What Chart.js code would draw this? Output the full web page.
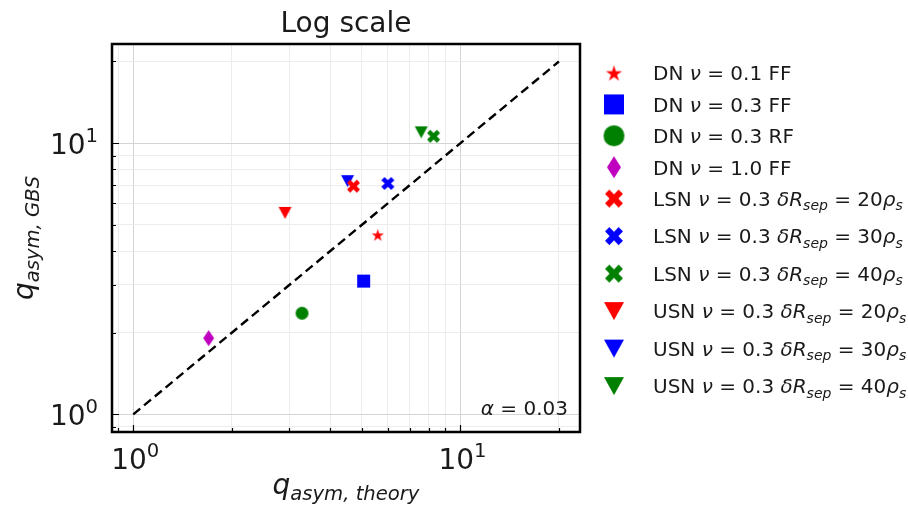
<!DOCTYPE html>
<html>
<head>
<meta charset="utf-8">
<script src="https://cdn.jsdelivr.net/npm/chart.js@4.4.0/dist/chart.umd.min.js"></script>
<style>
  html, body { margin: 0; padding: 0; background: #fff; }
  canvas { display: block; }
</style>
</head>
<body>
<canvas id="chart" width="908" height="505"></canvas>
<script>
// ---- data ----
// labels use a tiny markup: *x* italic, _{x} italic subscript, ^{x} superscript
const seriesLabels = [
    'DN *ν* = 0.1 FF',
    'DN *ν* = 0.3 FF',
    'DN *ν* = 0.3 RF',
    'DN *ν* = 1.0 FF',
    'LSN *ν* = 0.3 *δR*_{sep} = 20*ρ*_{s}',
    'LSN *ν* = 0.3 *δR*_{sep} = 30*ρ*_{s}',
    'LSN *ν* = 0.3 *δR*_{sep} = 40*ρ*_{s}',
    'USN *ν* = 0.3 *δR*_{sep} = 20*ρ*_{s}',
    'USN *ν* = 0.3 *δR*_{sep} = 30*ρ*_{s}',
    'USN *ν* = 0.3 *δR*_{sep} = 40*ρ*_{s}'
];
const seriesShapes = ['star', 'square', 'circle', 'diamond', 'x', 'x', 'x', 'triDown', 'triDown', 'triDown'];
const seriesColors = ['#ff0000', '#0000ff', '#008000', '#bf00bf', '#ff0000', '#0000ff', '#008000', '#ff0000', '#0000ff', '#008000'];
const qTheory = [5.59, 5.06, 3.28, 1.70, 4.71, 6.00, 8.28, 2.91, 4.52, 7.59];
const qGBS    = [4.59, 3.10, 2.36, 1.91, 6.94, 7.10, 10.6, 5.53, 7.24, 10.96];
const refLine = [1, 20];              // y = x guide, from 1 to 20
const tickValues = [0.9, 1, 2, 3, 4, 5, 6, 7, 8, 9, 10, 20];
const majorTicks = [1, 10];
const axisMin = 0.861;
const axisMax = 23.2;
const titleText = 'Log scale';
const xTitle = '*q*_{asym, theory}';
const yTitle = '*q*_{asym, GBS}';
const noteText = '*α* = 0.03';

// ---- styles ----
const FONT = '"DejaVu Sans", sans-serif';
const plotMarker = { star: [13, 13], square: [13, 13], circle: [13, 13], diamond: [11, 16], x: [13, 13], triDown: [13, 12] };
const legendMarker = { star: [17, 17], square: [20, 20], circle: [21, 21], diamond: [14, 22], x: [18, 18], triDown: [20, 18] };

function markerCanvas(shape, color, w, h) {
    const pad = 2;
    const c = document.createElement('canvas');
    c.width = Math.ceil(w) + pad * 2;
    c.height = Math.ceil(h) + pad * 2;
    const g = c.getContext('2d');
    g.translate(c.width / 2, c.height / 2);
    g.fillStyle = color;
    const rx = w / 2, ry = h / 2;
    g.beginPath();
    if (shape === 'circle') {
        g.arc(0, 0, rx, 0, Math.PI * 2);
    } else if (shape === 'square') {
        g.rect(-rx, -ry, w, h);
    } else if (shape === 'diamond') {
        g.moveTo(0, -ry); g.lineTo(rx, 0); g.lineTo(0, ry); g.lineTo(-rx, 0);
    } else if (shape === 'triDown') {
        g.moveTo(-rx, -ry); g.lineTo(rx, -ry); g.lineTo(0, ry);
    } else if (shape === 'star') {
        for (let k = 0; k < 10; k++) {
            const r = k % 2 ? 0.382 : 1;
            const a = -Math.PI / 2 + k * Math.PI / 5;
            g.lineTo(r * rx * Math.cos(a), r * ry * Math.sin(a) + ry * 0.1);
        }
    } else if (shape === 'x') {
        const a = 0.32;
        const L = rx * Math.SQRT2 / (1 + a), t = a * L;
        const pts = [[t, t], [L, t], [L, -t], [t, -t], [t, -L], [-t, -L], [-t, -t], [-L, -t], [-L, t], [-t, t], [-t, L], [t, L]];
        const cs = Math.SQRT1_2;
        pts.forEach(([px, py]) => g.lineTo((px - py) * cs, (px + py) * cs));
    }
    g.closePath();
    g.fill();
    return c;
}

// ---- math-ish text ----
function parseMath(s) {
    const parts = [];
    let buf = '', i = 0;
    const flush = () => { if (buf) { parts.push({ t: buf }); buf = ''; } };
    while (i < s.length) {
        const ch = s[i];
        if (ch === '*') {
            flush();
            const j = s.indexOf('*', i + 1);
            parts.push({ t: s.slice(i + 1, j), it: true });
            i = j + 1;
        } else if ((ch === '_' || ch === '^') && s[i + 1] === '{') {
            flush();
            const j = s.indexOf('}', i);
            parts.push({ t: s.slice(i + 2, j), it: ch === '_', sub: ch === '_', sup: ch === '^' });
            i = j + 1;
        } else {
            buf += ch; i++;
        }
    }
    flush();
    return parts;
}
const plain = s => s.replace(/\*/g, '').replace(/[_^]\{([^}]*)\}/g, '$1');

function partFont(p, size) {
    const sz = (p.sub || p.sup) ? size * 0.7 : size;
    return (p.it ? 'italic ' : '') + sz + 'px ' + FONT;
}
function mathWidth(c, parts, size) {
    return parts.reduce((w, p) => { c.font = partFont(p, size); return w + c.measureText(p.t).width; }, 0);
}
// draws at baseline y; align: left | center | right
function drawMath(c, text, x, y, size, align) {
    const parts = parseMath(text);
    const w = mathWidth(c, parts, size);
    let cx = align === 'center' ? x - w / 2 : align === 'right' ? x - w : x;
    c.textAlign = 'left';
    c.textBaseline = 'alphabetic';
    parts.forEach(p => {
        c.font = partFont(p, size);
        const dy = p.sub ? size * 0.22 : p.sup ? -size * 0.43 : 0;
        c.fillText(p.t, cx, y + dy);
        cx += c.measureText(p.t).width;
    });
}

// ---- decorations: frame, inward ticks, labels, legend ----
const decor = {
    id: 'decor',
    afterDraw(chart) {
        const { ctx: c, chartArea: a, scales } = chart;
        const xs = scales.x, ys = scales.y;
        c.save();
        c.fillStyle = '#1a1a1a';
        c.strokeStyle = '#000';

        // inward ticks
        c.lineWidth = 1.2;
        tickValues.forEach(v => {
            const len = majorTicks.includes(v) ? 7 : 4;
            const px = Math.round(xs.getPixelForValue(v)) + 0.5;
            const py = Math.round(ys.getPixelForValue(v)) + 0.5;
            c.beginPath();
            c.moveTo(px, a.bottom); c.lineTo(px, a.bottom - len);
            c.moveTo(a.left, py); c.lineTo(a.left + len, py);
            c.stroke();
        });

        // frame
        c.lineWidth = 2.5;
        c.strokeRect(a.left, a.top, a.right - a.left, a.bottom - a.top);

        // tick labels
        majorTicks.forEach(v => {
            const lab = '10^{' + Math.round(Math.log10(v)) + '}';
            drawMath(c, lab, xs.getPixelForValue(v) + 2, a.bottom + 37, 28, 'center');
            drawMath(c, lab, a.left - 14, ys.getPixelForValue(v) + 11, 28, 'right');
        });

        // title and axis titles
        c.font = '28px ' + FONT;
        c.textAlign = 'center';
        c.textBaseline = 'alphabetic';
        c.fillText(titleText, (a.left + a.right) / 2, 32);
        drawMath(c, xTitle, (a.left + a.right) / 2, 494, 28, 'center');
        c.save();
        c.translate(33, (a.top + a.bottom) / 2);
        c.rotate(-Math.PI / 2);
        drawMath(c, yTitle, 0, 0, 28, 'center');
        c.restore();

        // annotation
        drawMath(c, noteText, a.right - 12, a.bottom - 17, 20, 'right');

        // legend
        let ly = 73;
        seriesLabels.forEach((lab, i) => {
            if (i > 0) ly += (lab.includes('_{') && seriesLabels[i - 1].includes('_{')) ? 37.5 : 31.4;
            const [w, h] = legendMarker[seriesShapes[i]];
            const img = markerCanvas(seriesShapes[i], seriesColors[i], w, h);
            c.drawImage(img, 614 - img.width / 2, ly - img.height / 2);
            c.fillStyle = '#1a1a1a';
            drawMath(c, lab, 653, ly + 7.3, 20, 'left');
        });
        c.restore();
    }
};

// ---- chart ----
function logAxis() {
    return {
        type: 'logarithmic',
        min: axisMin,
        max: axisMax,
        afterBuildTicks: s => { s.ticks = tickValues.map(v => ({ value: v, major: majorTicks.includes(v) })); },
        afterFit: s => { if (s.isHorizontal()) s.height = 0; else s.width = 0; },
        ticks: { display: false },
        grid: {
            drawTicks: false,
            lineWidth: 1,
            color: g => (g.tick && g.tick.major) ? '#d4d4d4' : '#ececec'
        },
        border: { display: false }
    };
}

const pointSets = seriesLabels.map((lab, i) => {
    const [w, h] = plotMarker[seriesShapes[i]];
    return {
        label: plain(lab),
        data: [{ x: qTheory[i], y: qGBS[i] }],
        pointStyle: markerCanvas(seriesShapes[i], seriesColors[i], w, h),
        pointRadius: 6,
        order: 1
    };
});

const lineSet = {
    type: 'line',
    label: 'y = x',
    data: refLine.map(v => ({ x: v, y: v })),
    borderColor: '#000',
    borderWidth: 2.4,
    borderDash: [9, 5],
    pointRadius: 0,
    fill: false,
    order: 0
};

new Chart(document.getElementById('chart'), {
    type: 'scatter',
    data: { datasets: [...pointSets, lineSet] },
    options: {
        responsive: false,
        animation: false,
        events: [],
        layout: { padding: { left: 112, top: 44, right: 328, bottom: 73 } },
        plugins: {
            legend: { display: false },
            title: { display: false },
            tooltip: { enabled: false }
        },
        scales: { x: logAxis(), y: logAxis() }
    },
    plugins: [decor]
});
</script>
</body>
</html>
